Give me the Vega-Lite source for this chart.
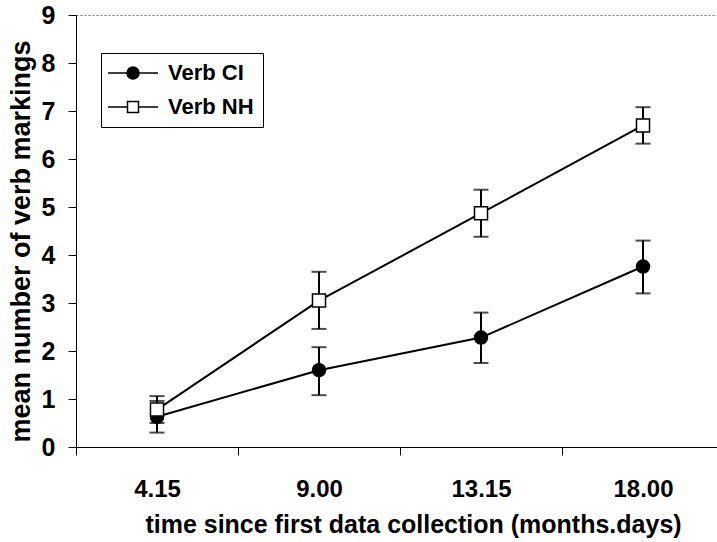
{
  "$schema": "https://vega.github.io/schema/vega-lite/v6.json",
  "width": 648,
  "height": 432,
  "autosize": {"type": "none"},
  "padding": {"left": 76, "top": 15, "right": -7, "bottom": 95},
  "background": "white",
  "config": {
    "view": {"stroke": null},
    "font": "Liberation Sans"
  },
  "data": {
    "values": [
      {"series": "Verb CI", "time": "4.15", "mean": 0.63, "lo": 0.30, "hi": 0.96},
      {"series": "Verb CI", "time": "9.00", "mean": 1.60, "lo": 1.08, "hi": 2.08},
      {"series": "Verb CI", "time": "13.15", "mean": 2.28, "lo": 1.75, "hi": 2.80},
      {"series": "Verb CI", "time": "18.00", "mean": 3.76, "lo": 3.20, "hi": 4.30},
      {"series": "Verb NH", "time": "4.15", "mean": 0.78, "lo": 0.50, "hi": 1.06},
      {"series": "Verb NH", "time": "9.00", "mean": 3.05, "lo": 2.46, "hi": 3.65},
      {"series": "Verb NH", "time": "13.15", "mean": 4.87, "lo": 4.38, "hi": 5.36},
      {"series": "Verb NH", "time": "18.00", "mean": 6.70, "lo": 6.32, "hi": 7.08}
    ]
  },
  "encoding": {
    "x": {
      "field": "time",
      "type": "ordinal",
      "sort": null,
      "scale": {"type": "band", "paddingInner": 0, "paddingOuter": 0},
      "axis": {
        "title": "time since first data collection (months.days)",
        "titleFont": "Liberation Sans",
        "titleFontSize": 25,
        "titleFontWeight": "bold",
        "titleColor": "black",
        "titlePadding": 11,
        "titleX": 337,
        "labelAngle": 0,
        "labelFont": "Liberation Sans",
        "labelFontSize": 24,
        "labelFontWeight": "bold",
        "labelColor": "black",
        "labelPadding": 22,
        "tickBand": "extent",
        "tickSize": 8,
        "tickColor": "black",
        "domainColor": "black",
        "grid": false
      }
    }
  },
  "layer": [
    {
      "mark": {"type": "line", "color": "black", "strokeWidth": 2},
      "encoding": {
        "y": {
          "field": "mean",
          "type": "quantitative",
          "scale": {"domain": [0, 9], "nice": false},
          "axis": {
            "title": "mean number of verb markings",
            "titleFont": "Liberation Sans",
            "titleFontSize": 27,
            "titleFontWeight": "bold",
            "titleColor": "black",
            "titlePadding": 6,
            "titleY": 226,
            "values": [0, 1, 2, 3, 4, 5, 6, 7, 8, 9],
            "tickSize": 8,
            "tickColor": "black",
            "domainColor": "black",
            "labelFont": "Liberation Sans",
            "labelFontSize": 25,
            "labelFontWeight": "bold",
            "labelColor": "black",
            "labelPadding": 13,
            "grid": true,
            "gridColor": "#777777",
            "gridDash": [2, 2],
            "gridOpacity": {"condition": {"test": "datum.value === 9", "value": 1}, "value": 0}
          }
        },
        "detail": {"field": "series"}
      }
    },
    {
      "mark": {"type": "rule", "color": "black", "strokeWidth": 2},
      "encoding": {
        "y": {"field": "lo", "type": "quantitative"},
        "y2": {"field": "hi"}
      }
    },
    {
      "mark": {"type": "tick", "orient": "horizontal", "color": "black", "size": 15, "thickness": 2},
      "encoding": {"y": {"field": "lo", "type": "quantitative"}}
    },
    {
      "mark": {"type": "tick", "orient": "horizontal", "color": "black", "size": 15, "thickness": 2},
      "encoding": {"y": {"field": "hi", "type": "quantitative"}}
    },
    {
      "mark": {"type": "point", "stroke": "black", "strokeWidth": 1.5, "opacity": 1, "size": 170},
      "encoding": {
        "y": {"field": "mean", "type": "quantitative"},
        "fill": {"condition": {"test": "datum.series === 'Verb CI'", "value": "black"}, "value": "white"},
        "shape": {"condition": {"test": "datum.series === 'Verb CI'", "value": "circle"}, "value": "square"}
      }
    },
    {
      "mark": {"type": "point", "stroke": "black", "strokeWidth": 1.5, "opacity": 0, "size": 400},
      "encoding": {
        "y": {"field": "mean", "type": "quantitative"},
        "fill": {
          "field": "series",
          "type": "nominal",
          "scale": {"domain": ["Verb CI", "Verb NH"], "range": ["black", "white"]},
          "legend": {
            "orient": "none",
            "legendX": 25,
            "legendY": 38,
            "title": null,
            "padding": 9,
            "strokeColor": "black",
            "fillColor": "white",
            "symbolSize": 400,
            "symbolOffset": 12,
            "labelOffset": 24,
            "labelFont": "Liberation Sans",
            "labelFontSize": 22,
            "labelFontWeight": "bold",
            "labelColor": "black",
            "rowPadding": 12,
            "symbolOpacity": 1,
            "encode": {"symbols": {"stroke": {"value": "black"}, "strokeWidth": {"value": 1.5}, "opacity": {"value": 1}}}
          }
        },
        "shape": {
          "field": "series",
          "type": "nominal",
          "scale": {
            "domain": ["Verb CI", "Verb NH"],
            "range": [
              "M-2.5,0L-0.6,0M0.6,0L2.5,0M-0.6,0A0.6,0.6 0 1,0 0.6,0A0.6,0.6 0 1,0 -0.6,0Z",
              "M-2.5,0L-0.55,0M0.55,0L2.5,0M-0.55,-0.55L0.55,-0.55L0.55,0.55L-0.55,0.55Z"
            ]
          },
          "legend": {
            "orient": "none",
            "legendX": 25,
            "legendY": 38,
            "title": null,
            "padding": 9,
            "strokeColor": "black",
            "fillColor": "white",
            "symbolSize": 400,
            "symbolOffset": 12,
            "labelOffset": 24,
            "labelFont": "Liberation Sans",
            "labelFontSize": 22,
            "labelFontWeight": "bold",
            "labelColor": "black",
            "rowPadding": 12,
            "symbolOpacity": 1,
            "encode": {"symbols": {"stroke": {"value": "black"}, "strokeWidth": {"value": 1.5}, "opacity": {"value": 1}}}
          }
        }
      }
    }
  ]
}
